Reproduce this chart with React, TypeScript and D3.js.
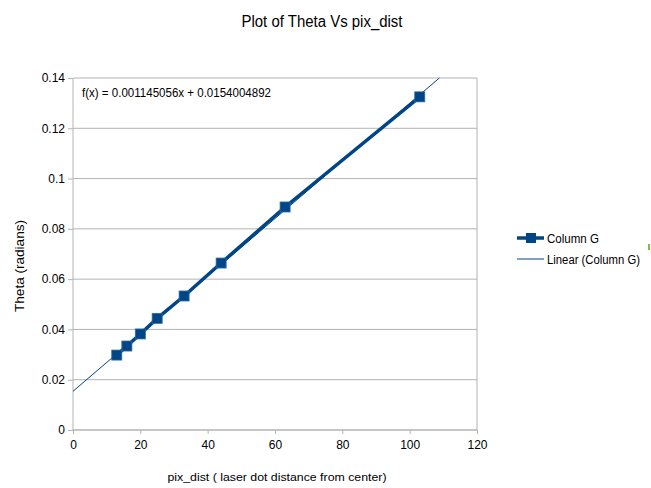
import { useEffect, useRef } from "react";
import * as d3 from "d3";

const pixDist = [13, 16, 20, 25, 33, 44, 63, 103];
const theta = [0.0298, 0.0334, 0.0382, 0.0444, 0.0533, 0.0664, 0.0887, 0.1325];
const xTicks = [0, 20, 40, 60, 80, 100, 120];
const yTicks = [0, 0.02, 0.04, 0.06, 0.08, 0.1, 0.12, 0.14];
const slope = 0.001145056;
const intercept = 0.0154004892;

const FONT = "'Liberation Sans', Arial, sans-serif";
const BLUE = "#004586";

export default function App() {
  const svgRef = useRef<SVGSVGElement | null>(null);

  useEffect(() => {
    if (!svgRef.current) return;
    const width = 651;
    const height = 488;
    const margin = { top: 78, right: 174, bottom: 58, left: 73 };
    const w = width - margin.left - margin.right;
    const h = height - margin.top - margin.bottom;

    const svg = d3.select(svgRef.current);
    svg.selectAll("*").remove();
    svg.attr("width", width).attr("height", height).style("font-family", FONT);

    svg.append("rect").attr("width", width).attr("height", height).attr("fill", "#fff");

    svg.append("text")
      .attr("x", 322)
      .attr("y", 27)
      .attr("text-anchor", "middle")
      .attr("font-size", 16)
      .attr("textLength", 161)
      .attr("lengthAdjust", "spacingAndGlyphs")
      .text("Plot of Theta Vs pix_dist");

    const g = svg.append("g").attr("transform", `translate(${margin.left},${margin.top})`);

    const x = d3.scaleLinear().domain([0, 120]).range([0, w]);
    const y = d3.scaleLinear().domain([0, 0.14]).range([h, 0]);

    // grid
    g.append("g")
      .selectAll("line")
      .data(yTicks)
      .enter()
      .append("line")
      .attr("x1", 0)
      .attr("x2", w)
      .attr("y1", d => y(d))
      .attr("y2", d => y(d))
      .attr("stroke", "#b3b3b3");

    g.append("line")
      .attr("x1", w).attr("x2", w).attr("y1", 0).attr("y2", h)
      .attr("stroke", "#b3b3b3");

    const yAxis = g.append("g")
      .call(d3.axisLeft(y).tickValues(yTicks).tickSize(5).tickPadding(3).tickFormat(d => String(+d)));
    yAxis.select(".domain").attr("stroke", "#b3b3b3").attr("d", `M0,0V${h}`);
    yAxis.selectAll("line").attr("stroke", "#b3b3b3");
    yAxis.selectAll("text").attr("font-size", 12).attr("font-family", FONT).attr("fill", "#000");

    const xAxis = g.append("g")
      .attr("transform", `translate(0,${h})`)
      .call(d3.axisBottom(x).tickValues(xTicks).tickSize(4).tickPadding(6));
    xAxis.select(".domain").attr("stroke", "#b3b3b3").attr("d", `M0,0H${w}`);
    xAxis.selectAll("line").attr("stroke", "#b3b3b3");
    xAxis.selectAll("text").attr("font-size", 12).attr("font-family", FONT).attr("fill", "#000");

    // trend line, ends at the top of the plot area
    const xEnd = (0.14 - intercept) / slope;
    g.append("line")
      .attr("x1", x(0))
      .attr("y1", y(intercept))
      .attr("x2", x(xEnd))
      .attr("y2", y(0.14))
      .attr("stroke", BLUE)
      .attr("stroke-width", 1);

    const pts = pixDist.map((p, i) => ({ x: p, y: theta[i] }));
    const line = d3.line<{ x: number; y: number }>().x(d => x(d.x)).y(d => y(d.y));
    g.append("path")
      .datum(pts)
      .attr("d", line)
      .attr("fill", "none")
      .attr("stroke", BLUE)
      .attr("stroke-width", 3.5);

    g.selectAll("rect.pt")
      .data(pts)
      .enter()
      .append("rect")
      .attr("class", "pt")
      .attr("x", d => x(d.x) - 5)
      .attr("y", d => y(d.y) - 5)
      .attr("width", 10)
      .attr("height", 10)
      .attr("fill", BLUE)
      .attr("stroke", "#2a6aa8")
      .attr("stroke-width", 0.8);

    // axis titles
    svg.append("text")
      .attr("transform", "translate(24,266) rotate(-90)")
      .attr("text-anchor", "middle")
      .attr("font-size", 12)
      .attr("textLength", 92)
      .attr("lengthAdjust", "spacingAndGlyphs")
      .text("Theta (radians)");

    svg.append("text")
      .attr("x", 277)
      .attr("y", 481)
      .attr("text-anchor", "middle")
      .attr("font-size", 11)
      .attr("textLength", 219)
      .attr("lengthAdjust", "spacingAndGlyphs")
      .text("pix_dist ( laser dot distance from center)");

    // equation
    g.append("text")
      .attr("x", 9)
      .attr("y", 19)
      .attr("font-size", 12)
      .attr("textLength", 189)
      .attr("lengthAdjust", "spacingAndGlyphs")
      .text(`f(x) = ${slope}x + ${intercept}`);

    // legend
    const lg = svg.append("g").attr("transform", "translate(517,238)");
    lg.append("line").attr("x1", 0).attr("x2", 27).attr("y1", 0).attr("y2", 0)
      .attr("stroke", BLUE).attr("stroke-width", 3.5);
    lg.append("rect").attr("x", 9).attr("y", -5).attr("width", 10).attr("height", 10).attr("fill", BLUE);
    lg.append("text").attr("x", 30).attr("y", 5).attr("font-size", 12)
      .attr("textLength", 52).attr("lengthAdjust", "spacingAndGlyphs").text("Column G");
    lg.append("line").attr("x1", 0).attr("x2", 27).attr("y1", 21).attr("y2", 21)
      .attr("stroke", BLUE).attr("stroke-width", 1);
    lg.append("text").attr("x", 30).attr("y", 26).attr("font-size", 12)
      .attr("textLength", 93).attr("lengthAdjust", "spacingAndGlyphs").text("Linear (Column G)");

    // small green sliver at the right edge of the original screenshot
    svg.append("rect").attr("x", 648).attr("y", 244).attr("width", 2).attr("height", 6).attr("fill", "#7fbf3f");
  }, []);

  return <svg ref={svgRef} style={{ position: "absolute", left: 0, top: 0 }} />;
}
